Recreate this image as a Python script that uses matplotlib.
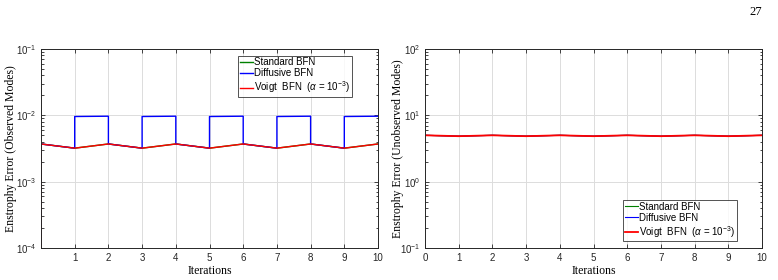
import numpy as np
import matplotlib
matplotlib.use("Agg")
import matplotlib.pyplot as plt
from matplotlib.ticker import LogLocator, NullFormatter

plt.rcParams['font.family'] = ['Liberation Sans', 'DejaVu Sans']
plt.rcParams['mathtext.fontset'] = 'custom'
plt.rcParams['mathtext.rm'] = 'Liberation Sans'
plt.rcParams['mathtext.it'] = 'Liberation Sans:italic'
plt.rcParams['mathtext.default'] = 'regular'

# observed modes (left panel)
iters_obs = [0, 0, 1, 2, 3, 4, 5, 6, 7, 8, 9, 10]
voigt_obs = [1e-6, 3.7e-3, 3.2e-3, 3.7e-3, 3.2e-3, 3.7e-3, 3.2e-3, 3.7e-3, 3.2e-3, 3.7e-3, 3.2e-3, 3.7e-3]
standard_obs = voigt_obs
iters_diff = [0, 0, 1, 1, 2, 2, 3, 3, 4, 4, 5, 5, 6, 6, 7, 7, 8, 8, 9, 9, 10]
diffusive_obs = [1e-6, 3.7e-3, 3.2e-3, 9.6e-3, 9.7e-3, 3.7e-3, 3.2e-3, 9.6e-3, 9.7e-3, 3.7e-3,
                 3.2e-3, 9.6e-3, 9.7e-3, 3.7e-3, 3.2e-3, 9.6e-3, 9.7e-3, 3.7e-3, 3.2e-3, 9.6e-3, 9.7e-3]

# unobserved modes (right panel)
iters_unobs = [0, 1, 2, 3, 4, 5, 6, 7, 8, 9, 10]
voigt_unobs = [5.0, 4.85, 5.0, 4.85, 5.0, 4.85, 5.0, 4.85, 5.0, 4.85, 5.0]
standard_unobs = voigt_unobs
diffusive_unobs = voigt_unobs

labels = ['Standard BFN', 'Diffusive BFN', r'Voigt  BFN  ($\mathit{\alpha}$ = 10$^{-3}$)']
colors = ['#008000', '#0000ff', '#ff0000']

fig = plt.figure(figsize=(7.78, 2.8), dpi=100)
ax1 = fig.add_axes([41/778, 32/280, 337/778, 199/280])
ax2 = fig.add_axes([425/778, 32/280, 337/778, 199/280])

ax1.plot(iters_obs, standard_obs, color=colors[0], lw=1, label=labels[0])
ax1.plot(iters_diff, diffusive_obs, color=colors[1], lw=1, label=labels[1])
ax1.plot(iters_obs, voigt_obs, color=colors[2], lw=1, label=labels[2])

ax2.plot(iters_unobs, standard_unobs, color=colors[0], lw=0.8, label=labels[0])
ax2.plot(iters_unobs, diffusive_unobs, color=colors[1], lw=0.8, label=labels[1])
ax2.plot(iters_unobs, voigt_unobs, color=colors[2], lw=1.3, label=labels[2])

ax1.set_ylim(1e-4, 1e-1)
ax2.set_ylim(1e-1, 1e2)

for ax in (ax1, ax2):
    ax.set_yscale('log')
    ax.set_xlim(0, 10)
    ax.yaxis.set_major_locator(LogLocator(base=10, numticks=10))
    ax.yaxis.set_minor_locator(LogLocator(base=10, subs=np.arange(2, 10), numticks=10))
    ax.yaxis.set_minor_formatter(NullFormatter())
    ax.grid(True, which='major', color='#dcdcdc', lw=0.7)
    ax.set_axisbelow(True)
    ax.tick_params(which='both', direction='in', top=True, right=True,
                   colors='#262626', labelsize=7, width=0.6, pad=3.5)
    ax.tick_params(which='major', length=3)
    ax.tick_params(which='minor', length=1.8)
    for sp in ax.spines.values():
        sp.set_color('#262626')
        sp.set_linewidth(0.7)
    ax.set_xlabel('Iterations', family='Liberation Serif', fontsize=8.5)
    ax.xaxis.set_label_coords(0.5, -0.085)

ax1.set_xticks(range(1, 11))
ax2.set_xticks(range(0, 11))

ax1.set_ylabel('Enstrophy Error (Observed Modes)', family='Liberation Serif', fontsize=8.5)
ax2.set_ylabel('Enstrophy Error (Unobserved Modes)', family='Liberation Serif', fontsize=8.5)
ax1.yaxis.set_label_coords(-0.070, 0.5)
ax2.yaxis.set_label_coords(-0.062, 0.5)

leg_kw = dict(fontsize=7, frameon=True, fancybox=False, edgecolor='#262626',
              handlelength=1.4, handletextpad=0.1, borderpad=0.15, labelspacing=0.1,
              borderaxespad=0)
ax1.legend(loc='upper left', bbox_to_anchor=(0.585, 0.965), **leg_kw)
ax2.legend(loc='lower left', bbox_to_anchor=(0.588, 0.035), **leg_kw)
for ax in (ax1, ax2):
    ax.get_legend().get_frame().set_linewidth(0.7)

fig.text(762/778, 1 - 12/280, '27', family='Liberation Serif', fontsize=9,
         ha='right', va='center')

fig.savefig('out.png', dpi=100)
